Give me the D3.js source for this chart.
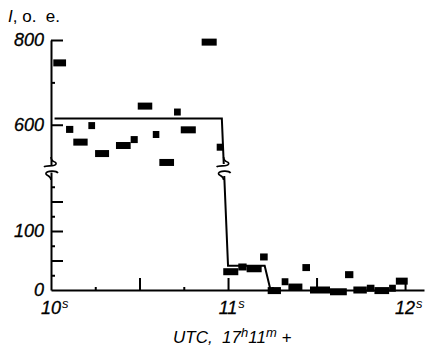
<!DOCTYPE html>
<html>
<head>
<meta charset="utf-8">
<script src="https://cdn.jsdelivr.net/npm/d3@7"></script>
<style>
  body { margin: 0; background: #fff; }
  svg { display: block; font-family: "Liberation Sans", Arial, sans-serif; }
</style>
</head>
<body>
<svg width="425" height="350"></svg>
<script>
// marker intervals (s after 17h11m) and intensity
var tStart = [10.013, 10.085, 10.126, 10.211, 10.249, 10.367, 10.450, 10.490, 10.575, 10.612,
              10.695, 10.733, 10.851, 10.936,
              10.973, 11.058, 11.105, 11.181, 11.224, 11.303, 11.341, 11.420, 11.463, 11.576,
              11.661, 11.708, 11.784, 11.827, 11.910, 11.948];
var tEnd   = [10.085, 10.126, 10.207, 10.249, 10.328, 10.450, 10.490, 10.572, 10.612, 10.695,
              10.733, 10.818, 10.936, 10.973,
              11.058, 11.105, 11.190, 11.224, 11.299, 11.341, 11.420, 11.463, 11.576, 11.671,
              11.708, 11.784, 11.827, 11.910, 11.948, 12.015];
var intensity = [746, 589, 559, 598, 532, 551, 565, 644, 577, 511,
                 630, 588, 795, 547,
                 31, 39, 36, 56, -1, 14, 5, 38, 0, -3,
                 26, 0, 3, -1, 3, 15];

// step model line
var lineT = [10.02, 10.965, 11.0, 11.207, 11.24];
var lineV = [615, 615, 41, 41, 0];

var xMajor = [10.5, 11, 11.5, 12];
var xMinor = [10.25, 10.75, 11.25, 11.75];
var xLabels = [10, 11, 12];
var lowMajor = [50, 100, 150], lowMinor = [25, 75, 125, 175], lowLabels = [0, 100];
var highMajor = [600, 800], highMinor = [700], highLabels = [600, 800];

var svg = d3.select('svg');

var x = d3.scaleLinear().domain([10, 12.107]).range([51, 424]);
var yLow = d3.scaleLinear().domain([0, 200]).range([290, 172]);
var yHigh = d3.scaleLinear().domain([505, 800]).range([165, 40]);
var y = v => v > 300 ? yHigh(v) : yLow(v);

var x0 = x(10), yBase = yLow(0);
var ink = '#000';

// markers
svg.append('g').selectAll('rect')
    .data(d3.range(tStart.length))
    .join('rect')
    .attr('x', i => x(tStart[i]))
    .attr('width', i => x(tEnd[i]) - x(tStart[i]))
    .attr('y', i => y(intensity[i]) - 3.5)
    .attr('height', 7)
    .attr('fill', ink);

// step line
var line = d3.line().x(d => x(d[0])).y(d => y(d[1]));
svg.append('path')
    .attr('d', line(d3.zip(lineT, lineV)))
    .attr('fill', 'none')
    .attr('stroke', ink)
    .attr('stroke-width', 2);

// gap in the step line
var gapTop = yHigh.range()[0] - 1, gapBot = yLow.range()[1] + 4;
svg.append('rect')
    .attr('x', x(10.93)).attr('width', x(11.04) - x(10.93))
    .attr('y', gapTop).attr('height', gapBot - gapTop)
    .attr('fill', '#fff');

// axes
function styleAxis(g) {
    g.selectAll('path, line').attr('stroke', ink).attr('stroke-width', 2);
}
svg.append('g').attr('transform', `translate(${x0},0)`)
    .call(d3.axisRight(yLow).tickValues(lowMajor).tickSize(12).tickSizeOuter(0).tickFormat(''))
    .call(styleAxis);
svg.append('g').attr('transform', `translate(${x0},0)`)
    .call(d3.axisRight(yLow).tickValues(lowMinor).tickSize(4).tickFormat(''))
    .call(g => g.select('.domain').remove())
    .call(styleAxis);
svg.append('g').attr('transform', `translate(${x0},0)`)
    .call(d3.axisRight(yHigh).tickValues(highMajor).tickSize(12).tickSizeOuter(0).tickFormat(''))
    .call(styleAxis);
svg.append('g').attr('transform', `translate(${x0},0)`)
    .call(d3.axisRight(yHigh).tickValues(highMinor).tickSize(4).tickFormat(''))
    .call(g => g.select('.domain').remove())
    .call(styleAxis);

svg.append('g').attr('transform', `translate(0,${yBase})`)
    .call(d3.axisBottom(x).tickValues(xMajor).tickSize(-12).tickSizeOuter(0).tickFormat(''))
    .call(styleAxis);
svg.append('g').attr('transform', `translate(0,${yBase})`)
    .call(d3.axisBottom(x).tickValues(xMinor).tickSize(-3).tickFormat(''))
    .call(g => g.select('.domain').remove())
    .call(styleAxis);

// break marks
function breakMark(cx) {
    var a = yHigh.range()[0], b = yLow.range()[1];
    var g = svg.append('g').attr('fill', 'none').attr('stroke', ink).attr('stroke-width', 1.6);
    g.append('path').attr('d', `M${cx},${a - 8} C${cx},${a - 2} ${cx + 6},${a - 4} ${cx + 5},${a - 1} C${cx + 4},${a + 2} ${cx - 5},${a} ${cx - 7},${a + 2}`);
    g.append('path').attr('d', `M${cx + 7},${b + 1} C${cx + 5},${b - 2} ${cx - 4},${b - 1} ${cx - 5},${b + 1} C${cx - 6},${b + 4} ${cx},${b + 3} ${cx},${b + 8}`);
}
breakMark(x0);
breakMark(x(10.975));

// tick labels
svg.append('g').selectAll('text')
    .data(lowLabels.map(v => [v, yLow(v)]).concat(highLabels.map(v => [v, yHigh(v)])))
    .join('text')
    .attr('x', x0 - 7)
    .attr('y', d => d[1])
    .attr('dy', '0.36em')
    .attr('text-anchor', 'end')
    .attr('font-style', 'italic')
    .attr('font-size', 18)
    .attr('stroke', ink)
    .attr('stroke-width', 0.3)
    .attr('fill', ink)
    .text(d => d[0]);

xLabels.forEach(function(t) {
    var num = svg.append('text')
        .attr('x', x(t)).attr('y', yBase + 24)
        .attr('text-anchor', 'middle')
        .attr('font-style', 'italic')
        .attr('font-size', 18)
        .attr('stroke', ink)
        .attr('stroke-width', 0.3)
        .attr('fill', ink)
        .text(t);
    var w = num.node().getComputedTextLength();
    svg.append('text')
        .attr('x', x(t) + w / 2 + 1).attr('y', yBase + 18)
        .attr('font-style', 'italic')
        .attr('font-size', 13)
        .attr('fill', ink)
        .text('s');
});

// axis titles
var xt = svg.append('text')
    .attr('x', 173).attr('y', 343)
    .attr('font-style', 'italic')
    .attr('font-size', 17)
    .attr('fill', ink);
xt.append('tspan').text('UTC,\u00a0\u00a017');
xt.append('tspan').attr('dy', -6).attr('font-size', 13).text('h');
xt.append('tspan').attr('dy', 6).text('11');
xt.append('tspan').attr('dy', -6).attr('font-size', 13).text('m');
xt.append('tspan').attr('dy', 6).text('\u00a0+');

var yt = svg.append('text')
    .attr('x', 8).attr('y', 22)
    .attr('font-size', 17)
    .attr('fill', ink);
yt.append('tspan').attr('font-style', 'italic').text('I');
yt.append('tspan').text(', о.\u00a0\u00a0е.');
</script>
</body>
</html>
